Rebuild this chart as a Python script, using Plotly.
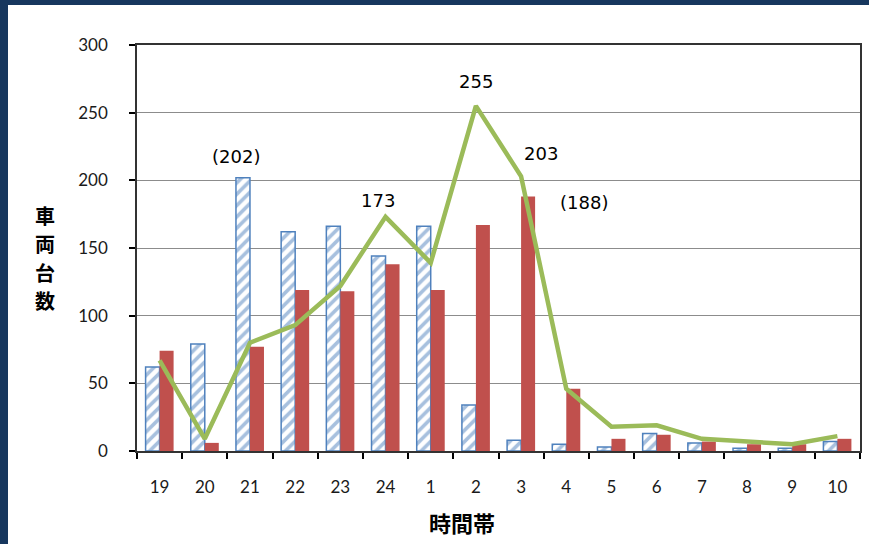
import plotly.graph_objects as go

# Hourly vehicle counts
hours = ["19", "20", "21", "22", "23", "24", "1", "2", "3", "4",
         "5", "6", "7", "8", "9", "10"]
series_a = [62, 79, 202, 162, 166, 144, 166, 34, 8, 5, 3, 13, 6, 2, 2, 7]
series_b = [74, 6, 77, 119, 118, 138, 119, 167, 188, 46, 9, 12, 7, 5, 5, 9]
series_c = [67, 9, 80, 93, 122, 173, 139, 255, 203, 46, 18, 19, 9, 7, 5, 11]
y_ticks = [0, 50, 100, 150, 200, 250, 300]
y_title = ["車", "両", "台", "数"]
x_title = "時間帯"

BLUE = "#4F81BD"
RED = "#C0504D"
GREEN = "#9BBB59"
NAVY = "#17375E"
TICK_FONT = dict(family="Lato, Liberation Sans, sans-serif", size=17, color="#1a1a1a")
JP_FONT = "Noto Sans CJK JP"
LABEL_FONT = dict(family="DejaVu Sans, sans-serif", size=18, color="black")

fig = go.Figure()
fig.add_trace(go.Bar(
    x=hours, y=series_a, name="A",
    marker=dict(color="white", line=dict(color=BLUE, width=1.5),
                pattern=dict(shape="/", fgcolor=BLUE, bgcolor="white",
                             size=8, solidity=0.45)),
))
fig.add_trace(go.Bar(
    x=hours, y=series_b, name="B",
    marker=dict(color=RED, line=dict(width=0)),
))
fig.add_trace(go.Scatter(
    x=hours, y=series_c, name="C", mode="lines",
    line=dict(color=GREEN, width=4.5),
))

# value labels: (category index, value, text, x offset px, y offset px)
labels = [
    (2, series_a[2], "(202)", -14, 21),
    (5, series_c[5], "173", -8, 16),
    (7, series_c[7], "255", 0, 24),
    (8, series_c[8], "203", 20, 23),
    (8, series_b[8], "(188)", 63, -6),
]
annotations = []
for i, y, t, dx, dy in labels:
    annotations.append(dict(
        x=i, y=y, xref="x", yref="y", text=t, showarrow=False,
        xshift=dx, yshift=dy, xanchor="center", yanchor="middle",
        font=LABEL_FONT,
    ))

# vertical axis title, one character per row
for k, ch in enumerate(y_title):
    annotations.append(dict(
        x=0, y=1, xref="paper", yref="paper", xshift=-92,
        yshift=-(215 - 45) - 28.5 * k,
        text=ch, showarrow=False, xanchor="center", yanchor="middle",
        borderpad=0,
        font=dict(family=JP_FONT, size=20, color="black", weight="bold"),
    ))
annotations.append(dict(
    x=0.4497, y=0, xref="paper", yref="paper", yshift=-71,
    text=x_title, showarrow=False, xanchor="center", yanchor="middle",
    font=dict(family=JP_FONT, size=22, color="black", weight="bold"),
))

shapes = [
    # dark frame strips on the left and top edges
    dict(type="rect", xref="paper", yref="paper", xsizemode="pixel",
         ysizemode="scaled", xanchor=0, x0=-137, x1=-129, y0=-0.3, y1=1.2,
         fillcolor=NAVY, line=dict(width=0), layer="above"),
    dict(type="rect", xref="paper", yref="paper", xsizemode="scaled",
         ysizemode="pixel", yanchor=1, x0=-0.2, x1=1.1, y0=40, y1=45,
         fillcolor=NAVY, line=dict(width=0), layer="above"),
]

fig.update_layout(
    width=869, height=544,
    margin=dict(l=137, r=7, t=45, b=93),
    paper_bgcolor="white", plot_bgcolor="white",
    barmode="group", bargap=0.38, bargroupgap=0,
    showlegend=False,
    annotations=annotations, shapes=shapes,
)
fig.update_xaxes(
    type="category", range=[-0.5, len(hours) - 0.5],
    tickson="boundaries", ticks="outside", ticklen=6, tickangle=0,
    tickcolor="black", tickwidth=1.5, showgrid=False,
    showline=True, linecolor="#333333", linewidth=1.5, mirror=True,
    tickfont=TICK_FONT, ticklabelstandoff=20,
)
fig.update_yaxes(
    range=[0, 300], tickvals=y_ticks, ticks="outside", ticklen=6,
    tickcolor="black", tickwidth=1.5,
    showgrid=True, gridcolor="#8c8c8c", gridwidth=1, zeroline=False,
    showline=True, linecolor="#333333", linewidth=1.5, mirror=True,
    tickfont=TICK_FONT, ticklabelstandoff=18,
)

fig.write_html("out.html")
